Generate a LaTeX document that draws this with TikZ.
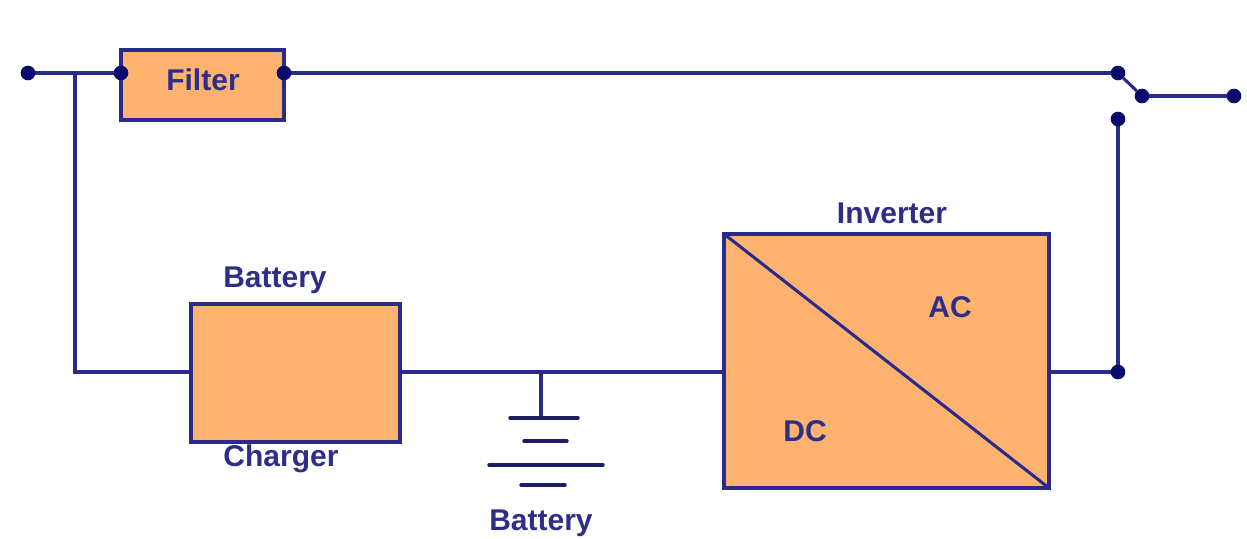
\documentclass[tikz,border=0pt]{standalone}
\usepackage{fontspec}
\setmainfont{Liberation Sans}
\definecolor{wire}{HTML}{2A2A8C}
\definecolor{dotc}{HTML}{0A0A6E}
\definecolor{boxfill}{HTML}{FDB36F}
\definecolor{labelc}{HTML}{2E2E88}
\tikzset{
  blockbox/.style={draw=wire,line width=2.3pt,fill=boxfill,inner sep=0pt,outer sep=0pt,rectangle,anchor=north west},
  wireline/.style={draw=wire,line width=2.3pt},
  plate/.style={draw=wire!70!black,line width=2.6pt,line cap=round},
  termdot/.style={circle,fill=dotc,draw=none,minimum size=11pt,inner sep=0pt,outer sep=0pt},
  lbl/.style={text=labelc,font=\bfseries\fontsize{22.5}{26}\selectfont,inner sep=0pt,anchor=base}
}
\begin{document}
\begin{tikzpicture}[x=0.75pt,y=-0.75pt]
\useasboundingbox (0,0) rectangle (1247,539);
\fill[white] (0,0) rectangle (1247,539);
% blocks
\node[blockbox,minimum width=122.25pt,minimum height=52.5pt] (filter) at (121,50) {};
\node[blockbox,minimum width=156.75pt,minimum height=103.5pt] (charger) at (191,304) {};
\node[blockbox,minimum width=243.75pt,minimum height=190.5pt] (inverter) at (724,234) {};
% points
\node[termdot] (in) at (28,73) {};
\node[termdot] (fa) at (121,73) {};
\node[termdot] (fb) at (284,73) {};
\node[termdot] (s1) at (1118,73) {};
\node[termdot] (s2) at (1142,96) {};
\node[termdot] (out) at (1234,96) {};
\node[termdot] (s3) at (1118,119) {};
\node[termdot] (j1) at (1118,372) {};
\coordinate (br) at (75,73);
\coordinate (brb) at (75,372);
\coordinate (chl) at (191,372);
\coordinate (chr) at (400,372);
\coordinate (invl) at (724,372);
\coordinate (invr) at (1049,372);
\coordinate (tap) at (541,372);
% wires
\draw[wireline] (in) -- (fa);
\draw[wireline] (br) -- (brb) -- (chl);
\draw[wireline] (fb) -- (s1);
\draw[wireline] (s1) -- (s2);
\draw[wireline] (s2) -- (out);
\draw[wireline] (s3) -- (j1);
\draw[wireline] (invr) -- (j1);
\draw[wireline] (chr) -- (invl);
\draw[wireline] (inverter.north west) -- (inverter.south east);
% battery
\coordinate (p1) at (541,418);
\draw[wireline] (tap) -- (p1);
\coordinate (p1a) at (510,418); \coordinate (p1b) at (578,418);
\coordinate (p2a) at (524,441); \coordinate (p2b) at (567,441);
\coordinate (p3a) at (489,465); \coordinate (p3b) at (603,465);
\coordinate (p4a) at (521,485); \coordinate (p4b) at (565,485);
\draw[plate] (p1a) -- (p1b);
\draw[plate] (p2a) -- (p2b);
\draw[plate] (p3a) -- (p3b);
\draw[plate] (p4a) -- (p4b);
% labels
\node[lbl] (tfilter) at (203,90) {Filter};
\node[lbl] (tbat1) at (275,287) {Battery};
\node[lbl] (tchg) at (281,466) {Charger};
\node[lbl] (tbat2) at (541,530) {Battery};
\node[lbl] (tinv) at (892,223) {Inverter};
\node[lbl] (tac) at (950,317) {AC};
\node[lbl] (tdc) at (805,441) {DC};
\end{tikzpicture}
\end{document}
